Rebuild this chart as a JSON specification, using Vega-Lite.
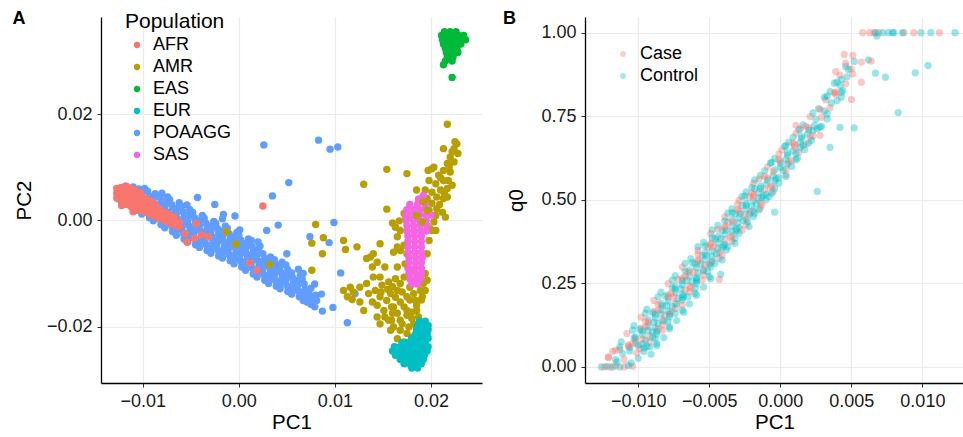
{
"$schema": "https://vega.github.io/schema/vega-lite/v6.json",
"padding": {"left": 12, "top": 10, "right": 0, "bottom": 0},
"config": {
 "font": "Liberation Sans",
 "view": {"stroke": null},
 "axis": {"labelFontSize": 18, "labelColor": "#1a1a1a", "titleFontSize": 20.5, "titleFontWeight": "normal", "titleColor": "#000", "domainColor": "#000", "domainWidth": 1.3, "tickColor": "#333", "tickSize": 4, "labelPadding": 5, "gridColor": "#ebebeb", "gridWidth": 1.2},
 "concat": {"spacing": 20}
},
"resolve": {"scale": {"color": "independent"}, "legend": {"color": "independent"}},
"datasets": {
"pop": [
{"x":-0.0125,"y":0.0040,"g":"POAAGG"},{"x":-0.0124,"y":0.0050,"g":"POAAGG"},{"x":-0.0123,"y":0.0061,"g":"POAAGG"},
{"x":-0.0118,"y":0.0034,"g":"POAAGG"},{"x":-0.0119,"y":0.0044,"g":"POAAGG"},{"x":-0.0117,"y":0.0054,"g":"POAAGG"},{"x":-0.0118,"y":0.0064,"g":"POAAGG"},
{"x":-0.0111,"y":0.0025,"g":"POAAGG"},{"x":-0.0112,"y":0.0035,"g":"POAAGG"},{"x":-0.0113,"y":0.0045,"g":"POAAGG"},{"x":-0.0112,"y":0.0055,"g":"POAAGG"},{"x":-0.0110,"y":0.0063,"g":"POAAGG"},
{"x":-0.0106,"y":0.0019,"g":"POAAGG"},{"x":-0.0107,"y":0.0030,"g":"POAAGG"},{"x":-0.0105,"y":0.0040,"g":"POAAGG"},{"x":-0.0106,"y":0.0050,"g":"POAAGG"},{"x":-0.0104,"y":0.0059,"g":"POAAGG"},
{"x":-0.0101,"y":0.0012,"g":"POAAGG"},{"x":-0.0100,"y":0.0023,"g":"POAAGG"},{"x":-0.0099,"y":0.0033,"g":"POAAGG"},{"x":-0.0100,"y":0.0043,"g":"POAAGG"},{"x":-0.0101,"y":0.0053,"g":"POAAGG"},{"x":-0.0098,"y":0.0060,"g":"POAAGG"},
{"x":-0.0093,"y":0.0005,"g":"POAAGG"},{"x":-0.0094,"y":0.0016,"g":"POAAGG"},{"x":-0.0095,"y":0.0026,"g":"POAAGG"},{"x":-0.0094,"y":0.0036,"g":"POAAGG"},{"x":-0.0093,"y":0.0046,"g":"POAAGG"},{"x":-0.0095,"y":0.0055,"g":"POAAGG"},
{"x":-0.0089,"y":-0.0001,"g":"POAAGG"},{"x":-0.0088,"y":0.0010,"g":"POAAGG"},{"x":-0.0087,"y":0.0020,"g":"POAAGG"},{"x":-0.0088,"y":0.0030,"g":"POAAGG"},{"x":-0.0089,"y":0.0040,"g":"POAAGG"},{"x":-0.0087,"y":0.0050,"g":"POAAGG"},
{"x":-0.0081,"y":-0.0008,"g":"POAAGG"},{"x":-0.0082,"y":0.0003,"g":"POAAGG"},{"x":-0.0083,"y":0.0013,"g":"POAAGG"},{"x":-0.0082,"y":0.0023,"g":"POAAGG"},{"x":-0.0081,"y":0.0033,"g":"POAAGG"},{"x":-0.0082,"y":0.0043,"g":"POAAGG"},{"x":-0.0080,"y":0.0051,"g":"POAAGG"},
{"x":-0.0077,"y":-0.0014,"g":"POAAGG"},{"x":-0.0076,"y":-0.0003,"g":"POAAGG"},{"x":-0.0075,"y":0.0007,"g":"POAAGG"},{"x":-0.0076,"y":0.0017,"g":"POAAGG"},{"x":-0.0077,"y":0.0027,"g":"POAAGG"},{"x":-0.0076,"y":0.0037,"g":"POAAGG"},{"x":-0.0074,"y":0.0044,"g":"POAAGG"},
{"x":-0.0069,"y":-0.0021,"g":"POAAGG"},{"x":-0.0070,"y":-0.0010,"g":"POAAGG"},{"x":-0.0071,"y":0.0000,"g":"POAAGG"},{"x":-0.0070,"y":0.0010,"g":"POAAGG"},{"x":-0.0069,"y":0.0020,"g":"POAAGG"},{"x":-0.0070,"y":0.0030,"g":"POAAGG"},{"x":-0.0072,"y":0.0039,"g":"POAAGG"},
{"x":-0.0065,"y":-0.0028,"g":"POAAGG"},{"x":-0.0064,"y":-0.0017,"g":"POAAGG"},{"x":-0.0063,"y":-0.0007,"g":"POAAGG"},{"x":-0.0064,"y":0.0003,"g":"POAAGG"},{"x":-0.0065,"y":0.0013,"g":"POAAGG"},{"x":-0.0064,"y":0.0023,"g":"POAAGG"},{"x":-0.0062,"y":0.0033,"g":"POAAGG"},
{"x":-0.0057,"y":-0.0035,"g":"POAAGG"},{"x":-0.0058,"y":-0.0024,"g":"POAAGG"},{"x":-0.0059,"y":-0.0014,"g":"POAAGG"},{"x":-0.0058,"y":-0.0004,"g":"POAAGG"},{"x":-0.0057,"y":0.0006,"g":"POAAGG"},{"x":-0.0058,"y":0.0016,"g":"POAAGG"},{"x":-0.0060,"y":0.0027,"g":"POAAGG"},
{"x":-0.0053,"y":-0.0041,"g":"POAAGG"},{"x":-0.0052,"y":-0.0030,"g":"POAAGG"},{"x":-0.0051,"y":-0.0020,"g":"POAAGG"},{"x":-0.0052,"y":-0.0010,"g":"POAAGG"},{"x":-0.0053,"y":0.0000,"g":"POAAGG"},{"x":-0.0052,"y":0.0010,"g":"POAAGG"},{"x":-0.0051,"y":0.0020,"g":"POAAGG"},{"x":-0.0054,"y":0.0029,"g":"POAAGG"},
{"x":-0.0045,"y":-0.0046,"g":"POAAGG"},{"x":-0.0046,"y":-0.0035,"g":"POAAGG"},{"x":-0.0047,"y":-0.0025,"g":"POAAGG"},{"x":-0.0046,"y":-0.0015,"g":"POAAGG"},{"x":-0.0045,"y":-0.0005,"g":"POAAGG"},{"x":-0.0046,"y":0.0005,"g":"POAAGG"},{"x":-0.0048,"y":0.0015,"g":"POAAGG"},
{"x":-0.0041,"y":-0.0051,"g":"POAAGG"},{"x":-0.0040,"y":-0.0040,"g":"POAAGG"},{"x":-0.0039,"y":-0.0030,"g":"POAAGG"},{"x":-0.0040,"y":-0.0020,"g":"POAAGG"},{"x":-0.0041,"y":-0.0010,"g":"POAAGG"},{"x":-0.0040,"y":0.0000,"g":"POAAGG"},{"x":-0.0038,"y":0.0009,"g":"POAAGG"},
{"x":-0.0033,"y":-0.0057,"g":"POAAGG"},{"x":-0.0034,"y":-0.0046,"g":"POAAGG"},{"x":-0.0035,"y":-0.0036,"g":"POAAGG"},{"x":-0.0034,"y":-0.0026,"g":"POAAGG"},{"x":-0.0033,"y":-0.0016,"g":"POAAGG"},{"x":-0.0034,"y":-0.0006,"g":"POAAGG"},{"x":-0.0036,"y":0.0004,"g":"POAAGG"},
{"x":-0.0029,"y":-0.0062,"g":"POAAGG"},{"x":-0.0028,"y":-0.0051,"g":"POAAGG"},{"x":-0.0027,"y":-0.0041,"g":"POAAGG"},{"x":-0.0028,"y":-0.0031,"g":"POAAGG"},{"x":-0.0029,"y":-0.0021,"g":"POAAGG"},{"x":-0.0028,"y":-0.0011,"g":"POAAGG"},{"x":-0.0026,"y":-0.0002,"g":"POAAGG"},
{"x":-0.0021,"y":-0.0067,"g":"POAAGG"},{"x":-0.0022,"y":-0.0056,"g":"POAAGG"},{"x":-0.0023,"y":-0.0046,"g":"POAAGG"},{"x":-0.0022,"y":-0.0036,"g":"POAAGG"},{"x":-0.0021,"y":-0.0026,"g":"POAAGG"},{"x":-0.0022,"y":-0.0016,"g":"POAAGG"},{"x":-0.0024,"y":-0.0006,"g":"POAAGG"},
{"x":-0.0017,"y":-0.0071,"g":"POAAGG"},{"x":-0.0016,"y":-0.0060,"g":"POAAGG"},{"x":-0.0015,"y":-0.0050,"g":"POAAGG"},{"x":-0.0016,"y":-0.0040,"g":"POAAGG"},{"x":-0.0017,"y":-0.0030,"g":"POAAGG"},{"x":-0.0016,"y":-0.0020,"g":"POAAGG"},{"x":-0.0014,"y":-0.0011,"g":"POAAGG"},
{"x":-0.0009,"y":-0.0076,"g":"POAAGG"},{"x":-0.0010,"y":-0.0065,"g":"POAAGG"},{"x":-0.0011,"y":-0.0055,"g":"POAAGG"},{"x":-0.0010,"y":-0.0045,"g":"POAAGG"},{"x":-0.0009,"y":-0.0035,"g":"POAAGG"},{"x":-0.0010,"y":-0.0025,"g":"POAAGG"},{"x":-0.0012,"y":-0.0015,"g":"POAAGG"},
{"x":-0.0005,"y":-0.0082,"g":"POAAGG"},{"x":-0.0004,"y":-0.0071,"g":"POAAGG"},{"x":-0.0003,"y":-0.0061,"g":"POAAGG"},{"x":-0.0004,"y":-0.0051,"g":"POAAGG"},{"x":-0.0005,"y":-0.0041,"g":"POAAGG"},{"x":-0.0004,"y":-0.0031,"g":"POAAGG"},{"x":-0.0002,"y":-0.0023,"g":"POAAGG"},
{"x":0.0003,"y":-0.0088,"g":"POAAGG"},{"x":0.0002,"y":-0.0077,"g":"POAAGG"},{"x":0.0001,"y":-0.0067,"g":"POAAGG"},{"x":0.0002,"y":-0.0057,"g":"POAAGG"},{"x":0.0003,"y":-0.0047,"g":"POAAGG"},{"x":0.0002,"y":-0.0037,"g":"POAAGG"},{"x":0.0000,"y":-0.0028,"g":"POAAGG"},
{"x":0.0007,"y":-0.0094,"g":"POAAGG"},{"x":0.0008,"y":-0.0083,"g":"POAAGG"},{"x":0.0009,"y":-0.0073,"g":"POAAGG"},{"x":0.0008,"y":-0.0063,"g":"POAAGG"},{"x":0.0007,"y":-0.0053,"g":"POAAGG"},{"x":0.0008,"y":-0.0043,"g":"POAAGG"},{"x":0.0010,"y":-0.0035,"g":"POAAGG"},
{"x":0.0015,"y":-0.0101,"g":"POAAGG"},{"x":0.0014,"y":-0.0090,"g":"POAAGG"},{"x":0.0013,"y":-0.0080,"g":"POAAGG"},{"x":0.0014,"y":-0.0070,"g":"POAAGG"},{"x":0.0015,"y":-0.0060,"g":"POAAGG"},{"x":0.0014,"y":-0.0050,"g":"POAAGG"},{"x":0.0012,"y":-0.0042,"g":"POAAGG"},
{"x":0.0019,"y":-0.0107,"g":"POAAGG"},{"x":0.0020,"y":-0.0096,"g":"POAAGG"},{"x":0.0021,"y":-0.0086,"g":"POAAGG"},{"x":0.0020,"y":-0.0076,"g":"POAAGG"},{"x":0.0019,"y":-0.0066,"g":"POAAGG"},{"x":0.0020,"y":-0.0056,"g":"POAAGG"},{"x":0.0022,"y":-0.0049,"g":"POAAGG"},
{"x":0.0027,"y":-0.0113,"g":"POAAGG"},{"x":0.0026,"y":-0.0102,"g":"POAAGG"},{"x":0.0025,"y":-0.0092,"g":"POAAGG"},{"x":0.0026,"y":-0.0082,"g":"POAAGG"},{"x":0.0027,"y":-0.0072,"g":"POAAGG"},{"x":0.0025,"y":-0.0063,"g":"POAAGG"},
{"x":0.0031,"y":-0.0119,"g":"POAAGG"},{"x":0.0032,"y":-0.0108,"g":"POAAGG"},{"x":0.0033,"y":-0.0098,"g":"POAAGG"},{"x":0.0032,"y":-0.0088,"g":"POAAGG"},{"x":0.0031,"y":-0.0078,"g":"POAAGG"},{"x":0.0033,"y":-0.0069,"g":"POAAGG"},
{"x":0.0039,"y":-0.0124,"g":"POAAGG"},{"x":0.0038,"y":-0.0113,"g":"POAAGG"},{"x":0.0037,"y":-0.0103,"g":"POAAGG"},{"x":0.0038,"y":-0.0093,"g":"POAAGG"},{"x":0.0039,"y":-0.0083,"g":"POAAGG"},{"x":0.0037,"y":-0.0074,"g":"POAAGG"},
{"x":0.0043,"y":-0.0129,"g":"POAAGG"},{"x":0.0044,"y":-0.0118,"g":"POAAGG"},{"x":0.0045,"y":-0.0108,"g":"POAAGG"},{"x":0.0044,"y":-0.0098,"g":"POAAGG"},{"x":0.0043,"y":-0.0088,"g":"POAAGG"},{"x":0.0045,"y":-0.0079,"g":"POAAGG"},
{"x":0.0051,"y":-0.0134,"g":"POAAGG"},{"x":0.0050,"y":-0.0123,"g":"POAAGG"},{"x":0.0049,"y":-0.0113,"g":"POAAGG"},{"x":0.0050,"y":-0.0103,"g":"POAAGG"},{"x":0.0051,"y":-0.0093,"g":"POAAGG"},{"x":0.0049,"y":-0.0084,"g":"POAAGG"},
{"x":0.0055,"y":-0.0139,"g":"POAAGG"},{"x":0.0056,"y":-0.0128,"g":"POAAGG"},{"x":0.0057,"y":-0.0118,"g":"POAAGG"},{"x":0.0056,"y":-0.0108,"g":"POAAGG"},{"x":0.0055,"y":-0.0099,"g":"POAAGG"},
{"x":0.0063,"y":-0.0144,"g":"POAAGG"},{"x":0.0062,"y":-0.0133,"g":"POAAGG"},{"x":0.0061,"y":-0.0123,"g":"POAAGG"},{"x":0.0062,"y":-0.0113,"g":"POAAGG"},{"x":0.0064,"y":-0.0104,"g":"POAAGG"},
{"x":0.0067,"y":-0.0151,"g":"POAAGG"},{"x":0.0068,"y":-0.0140,"g":"POAAGG"},{"x":0.0069,"y":-0.0130,"g":"POAAGG"},{"x":0.0068,"y":-0.0120,"g":"POAAGG"},{"x":0.0066,"y":-0.0111,"g":"POAAGG"},
{"x":0.0075,"y":-0.0158,"g":"POAAGG"},{"x":0.0074,"y":-0.0148,"g":"POAAGG"},{"x":0.0073,"y":-0.0138,"g":"POAAGG"},{"x":0.0075,"y":-0.0128,"g":"POAAGG"},
{"x":0.0079,"y":-0.0163,"g":"POAAGG"},{"x":0.0081,"y":-0.0151,"g":"POAAGG"},{"x":0.0080,"y":-0.0141,"g":"POAAGG"},
{"x":0.0026,"y":0.0142,"g":"POAAGG"},{"x":0.0083,"y":0.0151,"g":"POAAGG"},{"x":0.0095,"y":0.0134,"g":"POAAGG"},{"x":0.0103,"y":0.0138,"g":"POAAGG"},{"x":0.0052,"y":0.0071,"g":"POAAGG"},{"x":0.0035,"y":0.0046,"g":"POAAGG"},{"x":-0.0043,"y":0.0043,"g":"POAAGG"},{"x":-0.0025,"y":0.0030,"g":"POAAGG"},{"x":-0.0004,"y":0.0008,"g":"POAAGG"},{"x":0.0099,"y":-0.0004,"g":"POAAGG"},{"x":0.0029,"y":-0.0019,"g":"POAAGG"},{"x":0.0074,"y":-0.0031,"g":"POAAGG"},{"x":0.0094,"y":-0.0042,"g":"POAAGG"},{"x":0.0050,"y":-0.0063,"g":"POAAGG"},{"x":0.0106,"y":-0.0099,"g":"POAAGG"},{"x":0.0086,"y":-0.0139,"g":"POAAGG"},{"x":0.0087,"y":-0.0171,"g":"POAAGG"},{"x":0.0098,"y":-0.0164,"g":"POAAGG"},{"x":0.0113,"y":-0.0193,"g":"POAAGG"},{"x":-0.0017,"y":0.0003,"g":"POAAGG"},{"x":0.0001,"y":-0.0018,"g":"POAAGG"},{"x":0.0013,"y":-0.0038,"g":"POAAGG"},{"x":0.0067,"y":-0.0100,"g":"POAAGG"},{"x":0.0079,"y":-0.0120,"g":"POAAGG"},{"x":0.0074,"y":-0.0144,"g":"POAAGG"},{"x":0.0071,"y":-0.0154,"g":"POAAGG"},{"x":0.0121,"y":-0.0138,"g":"POAAGG"},{"x":0.0062,"y":-0.0092,"g":"POAAGG"},{"x":-0.0016,"y":0.0011,"g":"POAAGG"},{"x":0.0041,"y":-0.0009,"g":"POAAGG"},{"x":0.0020,"y":-0.0041,"g":"POAAGG"},
{"x":0.0217,"y":0.0181,"g":"AMR"},{"x":0.0225,"y":0.0148,"g":"AMR"},{"x":0.0227,"y":0.0144,"g":"AMR"},{"x":0.0224,"y":0.0135,"g":"AMR"},{"x":0.0213,"y":0.0135,"g":"AMR"},{"x":0.0228,"y":0.0126,"g":"AMR"},{"x":0.0220,"y":0.0119,"g":"AMR"},{"x":0.0224,"y":0.0110,"g":"AMR"},{"x":0.0217,"y":0.0107,"g":"AMR"},{"x":0.0203,"y":0.0100,"g":"AMR"},{"x":0.0213,"y":0.0094,"g":"AMR"},{"x":0.0220,"y":0.0091,"g":"AMR"},{"x":0.0208,"y":0.0085,"g":"AMR"},{"x":0.0201,"y":0.0097,"g":"AMR"},{"x":0.0197,"y":0.0094,"g":"AMR"},{"x":0.0198,"y":0.0075,"g":"AMR"},{"x":0.0205,"y":0.0069,"g":"AMR"},{"x":0.0213,"y":0.0075,"g":"AMR"},{"x":0.0218,"y":0.0075,"g":"AMR"},{"x":0.0217,"y":0.0060,"g":"AMR"},{"x":0.0210,"y":0.0057,"g":"AMR"},{"x":0.0217,"y":0.0044,"g":"AMR"},{"x":0.0213,"y":0.0041,"g":"AMR"},{"x":0.0206,"y":0.0044,"g":"AMR"},{"x":0.0201,"y":0.0053,"g":"AMR"},{"x":0.0194,"y":0.0057,"g":"AMR"},{"x":0.0185,"y":0.0057,"g":"AMR"},{"x":0.0196,"y":0.0041,"g":"AMR"},{"x":0.0201,"y":0.0032,"g":"AMR"},{"x":0.0206,"y":0.0022,"g":"AMR"},{"x":0.0215,"y":0.0006,"g":"AMR"},{"x":0.0205,"y":0.0009,"g":"AMR"},{"x":0.0198,"y":0.0019,"g":"AMR"},{"x":0.0203,"y":-0.0003,"g":"AMR"},{"x":0.0205,"y":-0.0019,"g":"AMR"},{"x":0.0199,"y":-0.0016,"g":"AMR"},{"x":0.0222,"y":0.0129,"g":"AMR"},{"x":0.0219,"y":0.0101,"g":"AMR"},{"x":0.0210,"y":0.0080,"g":"AMR"},{"x":0.0222,"y":0.0066,"g":"AMR"},{"x":0.0214,"y":0.0050,"g":"AMR"},{"x":0.0209,"y":0.0030,"g":"AMR"},{"x":0.0212,"y":0.0015,"g":"AMR"},
{"x":0.0175,"y":0.0088,"g":"AMR"},{"x":0.0154,"y":0.0096,"g":"AMR"},{"x":0.0130,"y":0.0068,"g":"AMR"},{"x":0.0154,"y":0.0021,"g":"AMR"},{"x":0.0160,"y":-0.0005,"g":"AMR"},{"x":0.0167,"y":-0.0001,"g":"AMR"},{"x":0.0174,"y":0.0005,"g":"AMR"},{"x":0.0080,"y":-0.0008,"g":"AMR"},{"x":0.0076,"y":-0.0043,"g":"AMR"},{"x":0.0088,"y":-0.0033,"g":"AMR"},{"x":0.0087,"y":-0.0063,"g":"AMR"},{"x":0.0109,"y":-0.0038,"g":"AMR"},{"x":0.0111,"y":-0.0055,"g":"AMR"},{"x":0.0123,"y":-0.0050,"g":"AMR"},{"x":0.0147,"y":-0.0044,"g":"AMR"},{"x":0.0076,"y":-0.0094,"g":"AMR"},{"x":-0.0013,"y":-0.0021,"g":"AMR"},{"x":-0.0003,"y":-0.0045,"g":"AMR"},{"x":0.0032,"y":-0.0083,"g":"AMR"},
{"x":0.0109,"y":-0.0132,"g":"AMR"},{"x":0.0116,"y":-0.0126,"g":"AMR"},{"x":0.0118,"y":-0.0149,"g":"AMR"},{"x":0.0126,"y":-0.0126,"g":"AMR"},{"x":0.0133,"y":-0.0119,"g":"AMR"},{"x":0.0135,"y":-0.0138,"g":"AMR"},{"x":0.0142,"y":-0.0132,"g":"AMR"},{"x":0.0147,"y":-0.0144,"g":"AMR"},{"x":0.0149,"y":-0.0122,"g":"AMR"},{"x":0.0156,"y":-0.0116,"g":"AMR"},{"x":0.0163,"y":-0.0110,"g":"AMR"},{"x":0.0168,"y":-0.0119,"g":"AMR"},{"x":0.0165,"y":-0.0132,"g":"AMR"},{"x":0.0158,"y":-0.0138,"g":"AMR"},{"x":0.0154,"y":-0.0151,"g":"AMR"},{"x":0.0144,"y":-0.0160,"g":"AMR"},{"x":0.0139,"y":-0.0154,"g":"AMR"},{"x":0.0151,"y":-0.0170,"g":"AMR"},{"x":0.0159,"y":-0.0163,"g":"AMR"},{"x":0.0168,"y":-0.0154,"g":"AMR"},{"x":0.0175,"y":-0.0144,"g":"AMR"},{"x":0.0182,"y":-0.0138,"g":"AMR"},{"x":0.0189,"y":-0.0132,"g":"AMR"},{"x":0.0178,"y":-0.0126,"g":"AMR"},{"x":0.0172,"y":-0.0107,"g":"AMR"},{"x":0.0165,"y":-0.0088,"g":"AMR"},{"x":0.0152,"y":-0.0088,"g":"AMR"},{"x":0.0147,"y":-0.0107,"g":"AMR"},{"x":0.0140,"y":-0.0107,"g":"AMR"},{"x":0.0139,"y":-0.0088,"g":"AMR"},{"x":0.0144,"y":-0.0079,"g":"AMR"},{"x":0.0137,"y":-0.0069,"g":"AMR"},{"x":0.0140,"y":-0.0063,"g":"AMR"},{"x":0.0133,"y":-0.0072,"g":"AMR"},{"x":0.0168,"y":-0.0057,"g":"AMR"},{"x":0.0165,"y":-0.0050,"g":"AMR"},{"x":0.0172,"y":-0.0047,"g":"AMR"},{"x":0.0175,"y":-0.0063,"g":"AMR"},{"x":0.0173,"y":-0.0082,"g":"AMR"},{"x":0.0182,"y":-0.0094,"g":"AMR"},{"x":0.0177,"y":-0.0107,"g":"AMR"},{"x":0.0144,"y":-0.0182,"g":"AMR"},{"x":0.0156,"y":-0.0188,"g":"AMR"},{"x":0.0161,"y":-0.0201,"g":"AMR"},{"x":0.0168,"y":-0.0207,"g":"AMR"},{"x":0.0165,"y":-0.0223,"g":"AMR"},{"x":0.0172,"y":-0.0229,"g":"AMR"},{"x":0.0175,"y":-0.0213,"g":"AMR"},{"x":0.0182,"y":-0.0195,"g":"AMR"},{"x":0.0187,"y":-0.0182,"g":"AMR"},{"x":0.0185,"y":-0.0170,"g":"AMR"},{"x":0.0180,"y":-0.0173,"g":"AMR"},{"x":0.0175,"y":-0.0179,"g":"AMR"},{"x":0.0168,"y":-0.0188,"g":"AMR"},{"x":0.0172,"y":-0.0163,"g":"AMR"},{"x":0.0184,"y":-0.0151,"g":"AMR"},{"x":0.0191,"y":-0.0144,"g":"AMR"},{"x":0.0194,"y":-0.0132,"g":"AMR"},{"x":0.0192,"y":-0.0119,"g":"AMR"},{"x":0.0187,"y":-0.0113,"g":"AMR"},{"x":0.0161,"y":-0.0163,"g":"AMR"},{"x":0.0152,"y":-0.0182,"g":"AMR"},{"x":0.0147,"y":-0.0195,"g":"AMR"},{"x":0.0158,"y":-0.0207,"g":"AMR"},{"x":0.0159,"y":-0.0188,"g":"AMR"},{"x":0.0177,"y":-0.0201,"g":"AMR"},{"x":0.0180,"y":-0.0220,"g":"AMR"},{"x":0.0126,"y":-0.0154,"g":"AMR"},{"x":0.0130,"y":-0.0170,"g":"AMR"},{"x":0.0119,"y":-0.0135,"g":"AMR"},{"x":0.0113,"y":-0.0144,"g":"AMR"},
{"x":0.0160,"y":-0.0125,"g":"AMR"},{"x":0.0170,"y":-0.0135,"g":"AMR"},{"x":0.0178,"y":-0.0150,"g":"AMR"},{"x":0.0163,"y":-0.0145,"g":"AMR"},{"x":0.0155,"y":-0.0130,"g":"AMR"},{"x":0.0148,"y":-0.0135,"g":"AMR"},{"x":0.0175,"y":-0.0170,"g":"AMR"},{"x":0.0165,"y":-0.0175,"g":"AMR"},{"x":0.0170,"y":-0.0195,"g":"AMR"},{"x":0.0160,"y":-0.0175,"g":"AMR"},{"x":0.0185,"y":-0.0160,"g":"AMR"},{"x":0.0190,"y":-0.0150,"g":"AMR"},{"x":0.0180,"y":-0.0185,"g":"AMR"},{"x":0.0185,"y":-0.0205,"g":"AMR"},{"x":0.0178,"y":-0.0230,"g":"AMR"},{"x":0.0185,"y":-0.0225,"g":"AMR"},
{"x":0.0163,"y":-0.0013,"g":"AMR"},{"x":0.0168,"y":-0.0019,"g":"AMR"},{"x":0.0165,"y":-0.0031,"g":"AMR"},{"x":0.0161,"y":-0.0060,"g":"AMR"},{"x":0.0172,"y":0.0013,"g":"AMR"},{"x":0.0178,"y":0.0009,"g":"AMR"},{"x":0.0201,"y":-0.0019,"g":"AMR"},{"x":0.0198,"y":-0.0038,"g":"AMR"},{"x":0.0196,"y":-0.0063,"g":"AMR"},{"x":0.0194,"y":-0.0100,"g":"AMR"},{"x":0.0196,"y":-0.0113,"g":"AMR"},
{"x":-0.0127,"y":0.0042,"g":"AFR"},{"x":-0.0127,"y":0.0051,"g":"AFR"},{"x":-0.0127,"y":0.0060,"g":"AFR"},
{"x":-0.0122,"y":0.0036,"g":"AFR"},{"x":-0.0122,"y":0.0045,"g":"AFR"},{"x":-0.0122,"y":0.0054,"g":"AFR"},{"x":-0.0122,"y":0.0062,"g":"AFR"},
{"x":-0.0117,"y":0.0030,"g":"AFR"},{"x":-0.0117,"y":0.0039,"g":"AFR"},{"x":-0.0117,"y":0.0048,"g":"AFR"},{"x":-0.0117,"y":0.0057,"g":"AFR"},{"x":-0.0117,"y":0.0064,"g":"AFR"},
{"x":-0.0112,"y":0.0026,"g":"AFR"},{"x":-0.0112,"y":0.0035,"g":"AFR"},{"x":-0.0112,"y":0.0044,"g":"AFR"},{"x":-0.0112,"y":0.0053,"g":"AFR"},{"x":-0.0112,"y":0.0060,"g":"AFR"},
{"x":-0.0107,"y":0.0022,"g":"AFR"},{"x":-0.0107,"y":0.0031,"g":"AFR"},{"x":-0.0107,"y":0.0040,"g":"AFR"},{"x":-0.0107,"y":0.0049,"g":"AFR"},{"x":-0.0107,"y":0.0056,"g":"AFR"},
{"x":-0.0102,"y":0.0018,"g":"AFR"},{"x":-0.0102,"y":0.0027,"g":"AFR"},{"x":-0.0102,"y":0.0036,"g":"AFR"},{"x":-0.0102,"y":0.0045,"g":"AFR"},{"x":-0.0102,"y":0.0051,"g":"AFR"},
{"x":-0.0097,"y":0.0015,"g":"AFR"},{"x":-0.0097,"y":0.0024,"g":"AFR"},{"x":-0.0097,"y":0.0033,"g":"AFR"},{"x":-0.0097,"y":0.0041,"g":"AFR"},
{"x":-0.0092,"y":0.0011,"g":"AFR"},{"x":-0.0092,"y":0.0020,"g":"AFR"},{"x":-0.0092,"y":0.0029,"g":"AFR"},{"x":-0.0092,"y":0.0036,"g":"AFR"},
{"x":-0.0087,"y":0.0007,"g":"AFR"},{"x":-0.0087,"y":0.0016,"g":"AFR"},{"x":-0.0087,"y":0.0025,"g":"AFR"},{"x":-0.0087,"y":0.0031,"g":"AFR"},
{"x":-0.0082,"y":0.0003,"g":"AFR"},{"x":-0.0082,"y":0.0012,"g":"AFR"},{"x":-0.0082,"y":0.0020,"g":"AFR"},
{"x":-0.0077,"y":-0.0001,"g":"AFR"},{"x":-0.0077,"y":0.0008,"g":"AFR"},{"x":-0.0077,"y":0.0015,"g":"AFR"},
{"x":-0.0072,"y":-0.0005,"g":"AFR"},{"x":-0.0072,"y":0.0004,"g":"AFR"},{"x":-0.0072,"y":0.0011,"g":"AFR"},
{"x":-0.0067,"y":-0.0009,"g":"AFR"},{"x":-0.0067,"y":0.0000,"g":"AFR"},{"x":-0.0067,"y":0.0006,"g":"AFR"},
{"x":-0.0062,"y":-0.0012,"g":"AFR"},{"x":-0.0062,"y":-0.0004,"g":"AFR"},
{"x":-0.0122,"y":0.0028,"g":"AFR"},{"x":-0.0110,"y":0.0016,"g":"AFR"},{"x":-0.0044,"y":-0.0006,"g":"AFR"},{"x":-0.0056,"y":-0.0025,"g":"AFR"},{"x":-0.0054,"y":-0.0041,"g":"AFR"},{"x":-0.0046,"y":-0.0034,"g":"AFR"},{"x":-0.0039,"y":-0.0027,"g":"AFR"},{"x":-0.0032,"y":-0.0031,"g":"AFR"},{"x":0.0011,"y":-0.0080,"g":"AFR"},{"x":0.0019,"y":-0.0094,"g":"AFR"},{"x":0.0025,"y":0.0027,"g":"AFR"},
{"x":0.0178,"y":0.0030,"g":"SAS"},{"x":0.0186,"y":0.0030,"g":"SAS"},{"x":0.0194,"y":0.0030,"g":"SAS"},
{"x":0.0175,"y":0.0020,"g":"SAS"},{"x":0.0182,"y":0.0020,"g":"SAS"},{"x":0.0189,"y":0.0020,"g":"SAS"},{"x":0.0196,"y":0.0020,"g":"SAS"},
{"x":0.0174,"y":0.0010,"g":"SAS"},{"x":0.0181,"y":0.0010,"g":"SAS"},{"x":0.0188,"y":0.0010,"g":"SAS"},{"x":0.0195,"y":0.0010,"g":"SAS"},{"x":0.0200,"y":0.0010,"g":"SAS"},
{"x":0.0174,"y":0.0000,"g":"SAS"},{"x":0.0181,"y":0.0000,"g":"SAS"},{"x":0.0188,"y":0.0000,"g":"SAS"},{"x":0.0195,"y":0.0000,"g":"SAS"},
{"x":0.0175,"y":-0.0010,"g":"SAS"},{"x":0.0182,"y":-0.0010,"g":"SAS"},{"x":0.0189,"y":-0.0010,"g":"SAS"},{"x":0.0196,"y":-0.0010,"g":"SAS"},
{"x":0.0175,"y":-0.0020,"g":"SAS"},{"x":0.0182,"y":-0.0020,"g":"SAS"},{"x":0.0189,"y":-0.0020,"g":"SAS"},{"x":0.0195,"y":-0.0020,"g":"SAS"},
{"x":0.0176,"y":-0.0030,"g":"SAS"},{"x":0.0183,"y":-0.0030,"g":"SAS"},{"x":0.0190,"y":-0.0030,"g":"SAS"},
{"x":0.0176,"y":-0.0040,"g":"SAS"},{"x":0.0183,"y":-0.0040,"g":"SAS"},{"x":0.0190,"y":-0.0040,"g":"SAS"},
{"x":0.0176,"y":-0.0050,"g":"SAS"},{"x":0.0183,"y":-0.0050,"g":"SAS"},{"x":0.0190,"y":-0.0050,"g":"SAS"},
{"x":0.0176,"y":-0.0060,"g":"SAS"},{"x":0.0183,"y":-0.0060,"g":"SAS"},{"x":0.0190,"y":-0.0060,"g":"SAS"},
{"x":0.0177,"y":-0.0070,"g":"SAS"},{"x":0.0184,"y":-0.0070,"g":"SAS"},{"x":0.0191,"y":-0.0070,"g":"SAS"},
{"x":0.0177,"y":-0.0080,"g":"SAS"},{"x":0.0184,"y":-0.0080,"g":"SAS"},{"x":0.0190,"y":-0.0080,"g":"SAS"},
{"x":0.0176,"y":-0.0090,"g":"SAS"},{"x":0.0183,"y":-0.0090,"g":"SAS"},{"x":0.0190,"y":-0.0090,"g":"SAS"},
{"x":0.0177,"y":-0.0100,"g":"SAS"},{"x":0.0184,"y":-0.0100,"g":"SAS"},{"x":0.0190,"y":-0.0100,"g":"SAS"},
{"x":0.0178,"y":-0.0110,"g":"SAS"},{"x":0.0185,"y":-0.0110,"g":"SAS"},{"x":0.0189,"y":-0.0110,"g":"SAS"},
{"x":0.0180,"y":-0.0120,"g":"SAS"},{"x":0.0186,"y":-0.0120,"g":"SAS"},
{"x":0.0192,"y":0.0047,"g":"SAS"},{"x":0.0187,"y":0.0040,"g":"SAS"},
{"x":0.0185,"y":0.0009,"g":"AMR"},{"x":0.0191,"y":-0.0003,"g":"AMR"},{"x":0.0196,"y":0.0019,"g":"AMR"},{"x":0.0192,"y":0.0035,"g":"AMR"},
{"x":0.0188,"y":-0.0190,"g":"EUR"},{"x":0.0194,"y":-0.0190,"g":"EUR"},
{"x":0.0186,"y":-0.0198,"g":"EUR"},{"x":0.0192,"y":-0.0198,"g":"EUR"},{"x":0.0197,"y":-0.0198,"g":"EUR"},
{"x":0.0185,"y":-0.0206,"g":"EUR"},{"x":0.0191,"y":-0.0206,"g":"EUR"},{"x":0.0197,"y":-0.0206,"g":"EUR"},
{"x":0.0184,"y":-0.0214,"g":"EUR"},{"x":0.0190,"y":-0.0214,"g":"EUR"},{"x":0.0196,"y":-0.0214,"g":"EUR"},
{"x":0.0180,"y":-0.0222,"g":"EUR"},{"x":0.0186,"y":-0.0222,"g":"EUR"},{"x":0.0192,"y":-0.0222,"g":"EUR"},{"x":0.0197,"y":-0.0222,"g":"EUR"},
{"x":0.0170,"y":-0.0230,"g":"EUR"},{"x":0.0176,"y":-0.0230,"g":"EUR"},{"x":0.0182,"y":-0.0230,"g":"EUR"},{"x":0.0188,"y":-0.0230,"g":"EUR"},{"x":0.0194,"y":-0.0230,"g":"EUR"},
{"x":0.0162,"y":-0.0238,"g":"EUR"},{"x":0.0168,"y":-0.0238,"g":"EUR"},{"x":0.0174,"y":-0.0238,"g":"EUR"},{"x":0.0180,"y":-0.0238,"g":"EUR"},{"x":0.0186,"y":-0.0238,"g":"EUR"},{"x":0.0192,"y":-0.0238,"g":"EUR"},{"x":0.0197,"y":-0.0238,"g":"EUR"},
{"x":0.0160,"y":-0.0246,"g":"EUR"},{"x":0.0166,"y":-0.0246,"g":"EUR"},{"x":0.0172,"y":-0.0246,"g":"EUR"},{"x":0.0178,"y":-0.0246,"g":"EUR"},{"x":0.0184,"y":-0.0246,"g":"EUR"},{"x":0.0190,"y":-0.0246,"g":"EUR"},{"x":0.0196,"y":-0.0246,"g":"EUR"},
{"x":0.0163,"y":-0.0254,"g":"EUR"},{"x":0.0169,"y":-0.0254,"g":"EUR"},{"x":0.0175,"y":-0.0254,"g":"EUR"},{"x":0.0181,"y":-0.0254,"g":"EUR"},{"x":0.0187,"y":-0.0254,"g":"EUR"},{"x":0.0193,"y":-0.0254,"g":"EUR"},
{"x":0.0168,"y":-0.0262,"g":"EUR"},{"x":0.0174,"y":-0.0262,"g":"EUR"},{"x":0.0180,"y":-0.0262,"g":"EUR"},{"x":0.0186,"y":-0.0262,"g":"EUR"},{"x":0.0192,"y":-0.0262,"g":"EUR"},
{"x":0.0172,"y":-0.0270,"g":"EUR"},{"x":0.0178,"y":-0.0270,"g":"EUR"},{"x":0.0184,"y":-0.0270,"g":"EUR"},{"x":0.0190,"y":-0.0270,"g":"EUR"},
{"x":0.0180,"y":-0.0278,"g":"EUR"},{"x":0.0186,"y":-0.0278,"g":"EUR"},
{"x":0.0214,"y":0.0355,"g":"EAS"},{"x":0.0220,"y":0.0355,"g":"EAS"},{"x":0.0226,"y":0.0355,"g":"EAS"},
{"x":0.0211,"y":0.0348,"g":"EAS"},{"x":0.0217,"y":0.0348,"g":"EAS"},{"x":0.0223,"y":0.0348,"g":"EAS"},{"x":0.0229,"y":0.0348,"g":"EAS"},{"x":0.0234,"y":0.0348,"g":"EAS"},
{"x":0.0212,"y":0.0340,"g":"EAS"},{"x":0.0218,"y":0.0340,"g":"EAS"},{"x":0.0224,"y":0.0340,"g":"EAS"},{"x":0.0230,"y":0.0340,"g":"EAS"},{"x":0.0236,"y":0.0340,"g":"EAS"},
{"x":0.0213,"y":0.0332,"g":"EAS"},{"x":0.0219,"y":0.0332,"g":"EAS"},{"x":0.0225,"y":0.0332,"g":"EAS"},{"x":0.0231,"y":0.0332,"g":"EAS"},
{"x":0.0215,"y":0.0324,"g":"EAS"},{"x":0.0221,"y":0.0324,"g":"EAS"},{"x":0.0227,"y":0.0324,"g":"EAS"},
{"x":0.0216,"y":0.0316,"g":"EAS"},{"x":0.0222,"y":0.0316,"g":"EAS"},{"x":0.0228,"y":0.0316,"g":"EAS"},
{"x":0.0217,"y":0.0308,"g":"EAS"},{"x":0.0223,"y":0.0308,"g":"EAS"},
{"x":0.0215,"y":0.0300,"g":"EAS"},{"x":0.0222,"y":0.0300,"g":"EAS"},
{"x":0.0213,"y":0.0293,"g":"EAS"},{"x":0.0222,"y":0.0269,"g":"EAS"}
],
"qz": [
{"x":-0.0126,"y":0,"g":"Control"},{"x":-0.0124,"y":0,"g":"Case"},{"x":-0.0122,"y":0.002,"g":"Control"},{"x":-0.0120,"y":0,"g":"Case"},{"x":-0.0118,"y":0,"g":"Control"},{"x":-0.0116,"y":0.003,"g":"Case"},{"x":-0.0113,"y":0,"g":"Control"},{"x":-0.0110,"y":0,"g":"Case"},{"x":-0.0107,"y":0.004,"g":"Control"},{"x":-0.0104,"y":0.002,"g":"Case"},
{"x":-0.0118,"y":0.047,"g":"Case"},{"x":-0.0113,"y":0.052,"g":"Case"},{"x":-0.0121,"y":0.03,"g":"Case"},{"x":-0.0116,"y":0.022,"g":"Control"},
{"x":-0.0121,"y":0.028,"g":"Case"},{"x":-0.0115,"y":0.015,"g":"Control"},{"x":-0.0110,"y":0.022,"g":"Case"},{"x":-0.0105,"y":0.012,"g":"Control"},{"x":-0.0100,"y":0.026,"g":"Control"},
{"x":-0.0116,"y":0.05,"g":"Case"},{"x":-0.0111,"y":0.04,"g":"Control"},{"x":-0.0106,"y":0.048,"g":"Control"},{"x":-0.0101,"y":0.042,"g":"Case"},{"x":-0.0096,"y":0.046,"g":"Control"},{"x":-0.0091,"y":0.038,"g":"Control"},
{"x":-0.0112,"y":0.075,"g":"Control"},{"x":-0.0107,"y":0.066,"g":"Case"},{"x":-0.0102,"y":0.072,"g":"Control"},{"x":-0.0097,"y":0.068,"g":"Control"},{"x":-0.0092,"y":0.074,"g":"Case"},{"x":-0.0087,"y":0.064,"g":"Control"},
{"x":-0.0108,"y":0.1,"g":"Case"},{"x":-0.0102,"y":0.09,"g":"Control"},{"x":-0.0097,"y":0.097,"g":"Control"},{"x":-0.0092,"y":0.092,"g":"Case"},{"x":-0.0087,"y":0.099,"g":"Control"},{"x":-0.0082,"y":0.088,"g":"Control"},
{"x":-0.0103,"y":0.124,"g":"Control"},{"x":-0.0098,"y":0.116,"g":"Case"},{"x":-0.0093,"y":0.122,"g":"Control"},{"x":-0.0088,"y":0.117,"g":"Control"},{"x":-0.0083,"y":0.125,"g":"Case"},{"x":-0.0078,"y":0.114,"g":"Control"},
{"x":-0.0098,"y":0.149,"g":"Case"},{"x":-0.0093,"y":0.141,"g":"Control"},{"x":-0.0088,"y":0.147,"g":"Control"},{"x":-0.0083,"y":0.142,"g":"Case"},{"x":-0.0078,"y":0.15,"g":"Control"},{"x":-0.0073,"y":0.139,"g":"Control"},
{"x":-0.0094,"y":0.173,"g":"Control"},{"x":-0.0089,"y":0.166,"g":"Case"},{"x":-0.0084,"y":0.172,"g":"Control"},{"x":-0.0079,"y":0.167,"g":"Control"},{"x":-0.0074,"y":0.175,"g":"Case"},{"x":-0.0068,"y":0.164,"g":"Control"},
{"x":-0.0089,"y":0.199,"g":"Case"},{"x":-0.0084,"y":0.19,"g":"Control"},{"x":-0.0079,"y":0.197,"g":"Control"},{"x":-0.0074,"y":0.192,"g":"Case"},{"x":-0.0069,"y":0.2,"g":"Control"},{"x":-0.0064,"y":0.189,"g":"Control"},
{"x":-0.0084,"y":0.224,"g":"Control"},{"x":-0.0079,"y":0.216,"g":"Case"},{"x":-0.0074,"y":0.222,"g":"Control"},{"x":-0.0069,"y":0.217,"g":"Control"},{"x":-0.0064,"y":0.225,"g":"Case"},{"x":-0.0059,"y":0.214,"g":"Control"},
{"x":-0.0079,"y":0.249,"g":"Case"},{"x":-0.0074,"y":0.241,"g":"Control"},{"x":-0.0069,"y":0.247,"g":"Control"},{"x":-0.0064,"y":0.242,"g":"Case"},{"x":-0.0059,"y":0.25,"g":"Control"},{"x":-0.0054,"y":0.239,"g":"Control"},
{"x":-0.0074,"y":0.273,"g":"Control"},{"x":-0.0069,"y":0.266,"g":"Case"},{"x":-0.0064,"y":0.272,"g":"Control"},{"x":-0.0059,"y":0.267,"g":"Control"},{"x":-0.0054,"y":0.275,"g":"Case"},{"x":-0.0049,"y":0.264,"g":"Control"},
{"x":-0.0069,"y":0.299,"g":"Case"},{"x":-0.0064,"y":0.29,"g":"Control"},{"x":-0.0059,"y":0.297,"g":"Control"},{"x":-0.0054,"y":0.292,"g":"Case"},{"x":-0.0049,"y":0.3,"g":"Control"},
{"x":-0.0063,"y":0.324,"g":"Control"},{"x":-0.0058,"y":0.316,"g":"Case"},{"x":-0.0053,"y":0.322,"g":"Control"},{"x":-0.0048,"y":0.317,"g":"Control"},{"x":-0.0043,"y":0.325,"g":"Case"},
{"x":-0.0058,"y":0.349,"g":"Case"},{"x":-0.0053,"y":0.341,"g":"Control"},{"x":-0.0048,"y":0.347,"g":"Control"},{"x":-0.0043,"y":0.342,"g":"Case"},{"x":-0.0038,"y":0.35,"g":"Control"},
{"x":-0.0054,"y":0.373,"g":"Control"},{"x":-0.0049,"y":0.366,"g":"Case"},{"x":-0.0044,"y":0.372,"g":"Control"},{"x":-0.0039,"y":0.367,"g":"Control"},{"x":-0.0034,"y":0.375,"g":"Case"},
{"x":-0.0049,"y":0.399,"g":"Case"},{"x":-0.0044,"y":0.39,"g":"Control"},{"x":-0.0039,"y":0.397,"g":"Control"},{"x":-0.0034,"y":0.392,"g":"Case"},{"x":-0.0029,"y":0.4,"g":"Control"},
{"x":-0.0044,"y":0.424,"g":"Control"},{"x":-0.0039,"y":0.416,"g":"Case"},{"x":-0.0034,"y":0.422,"g":"Control"},{"x":-0.0029,"y":0.417,"g":"Control"},{"x":-0.0024,"y":0.425,"g":"Case"},
{"x":-0.0039,"y":0.449,"g":"Case"},{"x":-0.0034,"y":0.441,"g":"Control"},{"x":-0.0029,"y":0.447,"g":"Control"},{"x":-0.0024,"y":0.442,"g":"Case"},{"x":-0.0019,"y":0.45,"g":"Control"},
{"x":-0.0034,"y":0.473,"g":"Control"},{"x":-0.0029,"y":0.466,"g":"Case"},{"x":-0.0024,"y":0.472,"g":"Control"},{"x":-0.0019,"y":0.467,"g":"Control"},{"x":-0.0014,"y":0.475,"g":"Case"},
{"x":-0.0029,"y":0.499,"g":"Case"},{"x":-0.0024,"y":0.49,"g":"Control"},{"x":-0.0019,"y":0.497,"g":"Control"},{"x":-0.0014,"y":0.492,"g":"Case"},{"x":-0.0010,"y":0.5,"g":"Control"},
{"x":-0.0024,"y":0.524,"g":"Control"},{"x":-0.0019,"y":0.516,"g":"Case"},{"x":-0.0015,"y":0.522,"g":"Control"},{"x":-0.0010,"y":0.517,"g":"Control"},{"x":-0.0005,"y":0.525,"g":"Case"},
{"x":-0.0019,"y":0.549,"g":"Case"},{"x":-0.0014,"y":0.541,"g":"Control"},{"x":-0.0010,"y":0.547,"g":"Control"},{"x":-0.0006,"y":0.542,"g":"Case"},{"x":-0.0001,"y":0.55,"g":"Control"},
{"x":-0.0014,"y":0.573,"g":"Control"},{"x":-0.0009,"y":0.566,"g":"Case"},{"x":-0.0005,"y":0.572,"g":"Control"},{"x":-0.0001,"y":0.567,"g":"Control"},{"x":0.0004,"y":0.575,"g":"Case"},
{"x":-0.0009,"y":0.599,"g":"Case"},{"x":-0.0004,"y":0.59,"g":"Control"},{"x":0.0000,"y":0.597,"g":"Control"},{"x":0.0004,"y":0.592,"g":"Case"},{"x":0.0008,"y":0.6,"g":"Control"},
{"x":-0.0004,"y":0.624,"g":"Control"},{"x":0.0000,"y":0.616,"g":"Case"},{"x":0.0004,"y":0.622,"g":"Control"},{"x":0.0008,"y":0.617,"g":"Case"},{"x":0.0012,"y":0.625,"g":"Control"},
{"x":0.0001,"y":0.649,"g":"Case"},{"x":0.0005,"y":0.641,"g":"Control"},{"x":0.0009,"y":0.647,"g":"Control"},{"x":0.0013,"y":0.642,"g":"Case"},{"x":0.0017,"y":0.65,"g":"Control"},
{"x":0.0006,"y":0.673,"g":"Control"},{"x":0.0010,"y":0.666,"g":"Case"},{"x":0.0014,"y":0.672,"g":"Control"},{"x":0.0018,"y":0.667,"g":"Case"},
{"x":0.0011,"y":0.699,"g":"Case"},{"x":0.0015,"y":0.69,"g":"Control"},{"x":0.0019,"y":0.697,"g":"Control"},{"x":0.0023,"y":0.692,"g":"Case"},
{"x":0.0016,"y":0.724,"g":"Control"},{"x":0.0020,"y":0.716,"g":"Case"},{"x":0.0024,"y":0.722,"g":"Control"},{"x":0.0028,"y":0.717,"g":"Control"},
{"x":0.0021,"y":0.749,"g":"Case"},{"x":0.0025,"y":0.741,"g":"Control"},{"x":0.0029,"y":0.747,"g":"Case"},{"x":0.0033,"y":0.742,"g":"Control"},
{"x":0.0027,"y":0.773,"g":"Control"},{"x":0.0031,"y":0.766,"g":"Control"},{"x":0.0035,"y":0.775,"g":"Case"},
{"x":0.0032,"y":0.799,"g":"Case"},{"x":0.0036,"y":0.79,"g":"Control"},{"x":0.0040,"y":0.797,"g":"Control"},
{"x":0.0035,"y":0.824,"g":"Control"},{"x":0.0039,"y":0.816,"g":"Case"},{"x":0.0043,"y":0.822,"g":"Control"},
{"x":0.0038,"y":0.849,"g":"Control"},{"x":0.0042,"y":0.841,"g":"Control"},{"x":0.0046,"y":0.847,"g":"Case"},
{"x":0.0042,"y":0.873,"g":"Case"},{"x":0.0047,"y":0.868,"g":"Control"},
{"x":0.0046,"y":0.899,"g":"Control"},{"x":0.0050,"y":0.892,"g":"Case"},
{"x":-0.0106,"y":0.058,"g":"Control"},{"x":-0.0099,"y":0.055,"g":"Case"},{"x":-0.0092,"y":0.06,"g":"Control"},
{"x":-0.0102,"y":0.083,"g":"Case"},{"x":-0.0095,"y":0.08,"g":"Control"},{"x":-0.0088,"y":0.085,"g":"Control"},
{"x":-0.0097,"y":0.108,"g":"Control"},{"x":-0.0090,"y":0.105,"g":"Control"},{"x":-0.0083,"y":0.11,"g":"Case"},
{"x":-0.0093,"y":0.133,"g":"Case"},{"x":-0.0086,"y":0.13,"g":"Control"},{"x":-0.0079,"y":0.135,"g":"Control"},
{"x":-0.0088,"y":0.158,"g":"Control"},{"x":-0.0081,"y":0.155,"g":"Case"},{"x":-0.0074,"y":0.16,"g":"Control"},
{"x":-0.0083,"y":0.183,"g":"Control"},{"x":-0.0076,"y":0.18,"g":"Control"},{"x":-0.0069,"y":0.185,"g":"Case"},
{"x":-0.0079,"y":0.208,"g":"Case"},{"x":-0.0072,"y":0.205,"g":"Control"},{"x":-0.0065,"y":0.21,"g":"Control"},
{"x":-0.0074,"y":0.233,"g":"Control"},{"x":-0.0067,"y":0.23,"g":"Case"},{"x":-0.0060,"y":0.235,"g":"Control"},
{"x":-0.0069,"y":0.258,"g":"Control"},{"x":-0.0062,"y":0.255,"g":"Control"},{"x":-0.0055,"y":0.26,"g":"Case"},
{"x":-0.0065,"y":0.283,"g":"Case"},{"x":-0.0058,"y":0.28,"g":"Control"},{"x":-0.0051,"y":0.285,"g":"Control"},
{"x":-0.0060,"y":0.308,"g":"Control"},{"x":-0.0053,"y":0.305,"g":"Case"},{"x":-0.0046,"y":0.31,"g":"Control"},
{"x":-0.0055,"y":0.333,"g":"Control"},{"x":-0.0048,"y":0.33,"g":"Control"},{"x":-0.0041,"y":0.335,"g":"Case"},
{"x":-0.0051,"y":0.358,"g":"Case"},{"x":-0.0044,"y":0.355,"g":"Control"},{"x":-0.0037,"y":0.36,"g":"Control"},
{"x":-0.0046,"y":0.383,"g":"Control"},{"x":-0.0039,"y":0.38,"g":"Case"},{"x":-0.0032,"y":0.385,"g":"Control"},
{"x":-0.0041,"y":0.408,"g":"Control"},{"x":-0.0034,"y":0.405,"g":"Control"},{"x":-0.0027,"y":0.41,"g":"Case"},
{"x":-0.0037,"y":0.433,"g":"Case"},{"x":-0.0030,"y":0.43,"g":"Control"},{"x":-0.0023,"y":0.435,"g":"Control"},
{"x":-0.0032,"y":0.458,"g":"Control"},{"x":-0.0025,"y":0.455,"g":"Case"},{"x":-0.0018,"y":0.46,"g":"Control"},
{"x":-0.0027,"y":0.483,"g":"Control"},{"x":-0.0020,"y":0.48,"g":"Control"},{"x":-0.0013,"y":0.485,"g":"Case"},
{"x":-0.0022,"y":0.508,"g":"Case"},{"x":-0.0015,"y":0.505,"g":"Control"},{"x":-0.0008,"y":0.51,"g":"Control"},
{"x":-0.0018,"y":0.533,"g":"Control"},{"x":-0.0011,"y":0.53,"g":"Case"},{"x":-0.0004,"y":0.535,"g":"Control"},
{"x":-0.0107,"y":0.062,"g":"Case"},{"x":-0.0100,"y":0.065,"g":"Control"},{"x":-0.0094,"y":0.061,"g":"Control"},
{"x":-0.0103,"y":0.087,"g":"Control"},{"x":-0.0097,"y":0.084,"g":"Case"},{"x":-0.0090,"y":0.089,"g":"Control"},
{"x":-0.0099,"y":0.112,"g":"Control"},{"x":-0.0093,"y":0.109,"g":"Control"},{"x":-0.0086,"y":0.113,"g":"Case"},
{"x":-0.0095,"y":0.137,"g":"Case"},{"x":-0.0089,"y":0.134,"g":"Control"},{"x":-0.0082,"y":0.138,"g":"Control"},
{"x":-0.0090,"y":0.162,"g":"Control"},{"x":-0.0084,"y":0.159,"g":"Control"},{"x":-0.0077,"y":0.163,"g":"Case"},
{"x":-0.0086,"y":0.187,"g":"Case"},{"x":-0.0080,"y":0.184,"g":"Control"},{"x":-0.0073,"y":0.188,"g":"Control"},
{"x":-0.0081,"y":0.212,"g":"Control"},{"x":-0.0075,"y":0.209,"g":"Case"},{"x":-0.0068,"y":0.213,"g":"Control"},
{"x":-0.0076,"y":0.237,"g":"Control"},{"x":-0.0070,"y":0.234,"g":"Control"},{"x":-0.0063,"y":0.238,"g":"Case"},
{"x":-0.0072,"y":0.262,"g":"Case"},{"x":-0.0066,"y":0.259,"g":"Control"},{"x":-0.0059,"y":0.263,"g":"Control"},
{"x":-0.0067,"y":0.287,"g":"Control"},{"x":-0.0061,"y":0.284,"g":"Case"},{"x":-0.0054,"y":0.288,"g":"Control"},
{"x":-0.0062,"y":0.312,"g":"Control"},{"x":-0.0056,"y":0.309,"g":"Control"},{"x":-0.0049,"y":0.313,"g":"Case"},
{"x":-0.0058,"y":0.337,"g":"Case"},{"x":-0.0052,"y":0.334,"g":"Control"},{"x":-0.0045,"y":0.338,"g":"Control"},
{"x":-0.0053,"y":0.362,"g":"Control"},{"x":-0.0047,"y":0.359,"g":"Case"},{"x":-0.0040,"y":0.363,"g":"Control"},
{"x":-0.0048,"y":0.387,"g":"Control"},{"x":-0.0042,"y":0.384,"g":"Control"},{"x":-0.0035,"y":0.388,"g":"Case"},
{"x":-0.0044,"y":0.412,"g":"Case"},{"x":-0.0038,"y":0.409,"g":"Control"},{"x":-0.0031,"y":0.413,"g":"Control"},
{"x":-0.0039,"y":0.437,"g":"Control"},{"x":-0.0033,"y":0.434,"g":"Case"},{"x":-0.0026,"y":0.438,"g":"Control"},
{"x":-0.0034,"y":0.462,"g":"Control"},{"x":-0.0028,"y":0.459,"g":"Control"},{"x":-0.0021,"y":0.463,"g":"Case"},
{"x":-0.0030,"y":0.487,"g":"Case"},{"x":-0.0024,"y":0.484,"g":"Control"},{"x":-0.0017,"y":0.488,"g":"Control"},
{"x":-0.0025,"y":0.512,"g":"Control"},{"x":-0.0019,"y":0.509,"g":"Case"},{"x":-0.0012,"y":0.513,"g":"Control"},
{"x":-0.0020,"y":0.537,"g":"Control"},{"x":-0.0014,"y":0.534,"g":"Control"},{"x":-0.0007,"y":0.538,"g":"Case"},
{"x":-0.0015,"y":0.562,"g":"Case"},{"x":-0.0009,"y":0.559,"g":"Control"},{"x":-0.0003,"y":0.563,"g":"Control"},
{"x":-0.0011,"y":0.587,"g":"Control"},{"x":-0.0005,"y":0.584,"g":"Case"},{"x":0.0002,"y":0.588,"g":"Control"},
{"x":-0.0006,"y":0.612,"g":"Control"},{"x":0.0000,"y":0.609,"g":"Control"},{"x":0.0006,"y":0.613,"g":"Case"},
{"x":-0.0001,"y":0.637,"g":"Case"},{"x":0.0005,"y":0.634,"g":"Control"},{"x":0.0011,"y":0.638,"g":"Control"},
{"x":0.0004,"y":0.662,"g":"Control"},{"x":0.0010,"y":0.659,"g":"Case"},{"x":0.0016,"y":0.663,"g":"Control"},
{"x":0.0009,"y":0.687,"g":"Control"},{"x":0.0015,"y":0.684,"g":"Control"},{"x":0.0021,"y":0.688,"g":"Case"},
{"x":0.0014,"y":0.712,"g":"Case"},{"x":0.0020,"y":0.709,"g":"Control"},{"x":0.0026,"y":0.713,"g":"Control"},
{"x":-0.0113,"y":0.06,"g":"Control"},{"x":-0.0104,"y":0.07,"g":"Case"},{"x":-0.0096,"y":0.057,"g":"Control"},{"x":-0.0087,"y":0.07,"g":"Control"},
{"x":-0.0104,"y":0.11,"g":"Control"},{"x":-0.0095,"y":0.12,"g":"Case"},{"x":-0.0087,"y":0.107,"g":"Control"},{"x":-0.0078,"y":0.12,"g":"Control"},
{"x":-0.0095,"y":0.16,"g":"Control"},{"x":-0.0086,"y":0.17,"g":"Case"},{"x":-0.0078,"y":0.157,"g":"Control"},{"x":-0.0069,"y":0.17,"g":"Control"},
{"x":-0.0086,"y":0.21,"g":"Control"},{"x":-0.0077,"y":0.22,"g":"Case"},{"x":-0.0069,"y":0.207,"g":"Control"},{"x":-0.0060,"y":0.22,"g":"Control"},
{"x":-0.0076,"y":0.26,"g":"Control"},{"x":-0.0067,"y":0.27,"g":"Case"},{"x":-0.0059,"y":0.257,"g":"Control"},{"x":-0.0050,"y":0.27,"g":"Control"},
{"x":-0.0067,"y":0.31,"g":"Control"},{"x":-0.0058,"y":0.32,"g":"Case"},{"x":-0.0050,"y":0.307,"g":"Control"},{"x":-0.0041,"y":0.32,"g":"Control"},
{"x":-0.0058,"y":0.36,"g":"Control"},{"x":-0.0049,"y":0.37,"g":"Case"},{"x":-0.0041,"y":0.357,"g":"Control"},{"x":-0.0032,"y":0.37,"g":"Control"},
{"x":-0.0048,"y":0.41,"g":"Control"},{"x":-0.0039,"y":0.42,"g":"Case"},{"x":-0.0031,"y":0.407,"g":"Control"},{"x":-0.0022,"y":0.42,"g":"Control"},
{"x":-0.0037,"y":0.46,"g":"Control"},{"x":-0.0030,"y":0.47,"g":"Case"},{"x":-0.0022,"y":0.457,"g":"Control"},{"x":-0.0015,"y":0.47,"g":"Control"},
{"x":-0.0027,"y":0.51,"g":"Control"},{"x":-0.0020,"y":0.52,"g":"Case"},{"x":-0.0013,"y":0.507,"g":"Control"},{"x":-0.0006,"y":0.52,"g":"Control"},
{"x":-0.0018,"y":0.56,"g":"Control"},{"x":-0.0011,"y":0.57,"g":"Case"},{"x":-0.0004,"y":0.557,"g":"Control"},{"x":0.0004,"y":0.57,"g":"Control"},
{"x":-0.0007,"y":0.61,"g":"Control"},{"x":-0.0001,"y":0.62,"g":"Case"},{"x":0.0005,"y":0.607,"g":"Control"},{"x":0.0011,"y":0.62,"g":"Control"},
{"x":0.0003,"y":0.66,"g":"Control"},{"x":0.0009,"y":0.67,"g":"Case"},{"x":0.0014,"y":0.657,"g":"Control"},{"x":0.0020,"y":0.67,"g":"Control"},
{"x":0.0013,"y":0.71,"g":"Control"},{"x":0.0018,"y":0.72,"g":"Case"},{"x":0.0023,"y":0.707,"g":"Control"},{"x":0.0029,"y":0.72,"g":"Control"},
{"x":0.0023,"y":0.76,"g":"Control"},{"x":0.0028,"y":0.77,"g":"Case"},{"x":0.0033,"y":0.757,"g":"Control"},
{"x":0.0033,"y":0.81,"g":"Control"},{"x":0.0038,"y":0.82,"g":"Case"},{"x":0.0043,"y":0.807,"g":"Control"},
{"x":0.0058,"y":1,"g":"Case"},{"x":0.0063,"y":1,"g":"Case"},{"x":0.0066,"y":1,"g":"Case"},{"x":0.0069,"y":1,"g":"Case"},{"x":0.0087,"y":1,"g":"Case"},{"x":0.0094,"y":1,"g":"Case"},{"x":0.0112,"y":1,"g":"Case"},
{"x":0.0067,"y":1,"g":"Control"},{"x":0.0072,"y":1,"g":"Control"},{"x":0.0076,"y":1,"g":"Control"},{"x":0.0079,"y":1,"g":"Control"},{"x":0.0080,"y":1,"g":"Control"},{"x":0.0086,"y":1,"g":"Control"},{"x":0.0099,"y":1,"g":"Control"},{"x":0.0106,"y":1,"g":"Control"},{"x":0.0123,"y":1,"g":"Control"},{"x":0.0068,"y":0.99,"g":"Control"},
{"x":0.0052,"y":0.914,"g":"Control"},{"x":0.0062,"y":0.919,"g":"Control"},{"x":0.0067,"y":0.879,"g":"Control"},{"x":0.0074,"y":0.867,"g":"Control"},{"x":0.0095,"y":0.880,"g":"Control"},{"x":0.0104,"y":0.902,"g":"Control"},{"x":0.0083,"y":0.761,"g":"Control"},{"x":0.0052,"y":0.715,"g":"Control"},{"x":0.0042,"y":0.717,"g":"Control"},{"x":0.0035,"y":0.657,"g":"Control"},{"x":0.0026,"y":0.525,"g":"Control"},{"x":-0.0004,"y":0.463,"g":"Control"},{"x":-0.0042,"y":0.277,"g":"Control"},{"x":0.0044,"y":0.827,"g":"Control"},{"x":0.0048,"y":0.89,"g":"Control"},{"x":0.0043,"y":0.86,"g":"Control"},{"x":0.0040,"y":0.852,"g":"Control"},{"x":0.0031,"y":0.807,"g":"Control"},{"x":0.0022,"y":0.678,"g":"Control"},
{"x":0.0045,"y":0.935,"g":"Case"},{"x":0.0051,"y":0.932,"g":"Case"},{"x":0.0046,"y":0.909,"g":"Case"},{"x":0.0057,"y":0.912,"g":"Case"},{"x":0.0064,"y":0.915,"g":"Case"},{"x":0.0057,"y":0.852,"g":"Case"},{"x":0.0050,"y":0.800,"g":"Case"},{"x":0.0051,"y":0.877,"g":"Case"},{"x":0.0039,"y":0.884,"g":"Case"},{"x":-0.0043,"y":0.262,"g":"Case"},{"x":0.0011,"y":0.723,"g":"Case"},{"x":0.0028,"y":0.693,"g":"Case"},{"x":0.0039,"y":0.822,"g":"Case"}
]
},
"hconcat": [
{
 "width": 381, "height": 366,
 "title": {"text": "A", "anchor": "start", "frame": "bounds", "fontSize": 18, "fontWeight": "bold", "color": "#000", "offset": 0, "dx": -2, "dy": 17},
 "data": {"name": "pop"},
 "mark": {"type": "circle", "size": 55, "opacity": 1},
 "encoding": {
  "x": {"field": "x", "type": "quantitative", "scale": {"domain": [-0.01434, 0.02531], "nice": false, "zero": false}, "axis": {"values": [-0.01, 0, 0.01, 0.02], "format": ".2f", "title": "PC1", "titlePadding": 2}},
  "y": {"field": "y", "type": "quantitative", "scale": {"domain": [-0.03064, 0.03829], "nice": false, "zero": false}, "axis": {"values": [-0.02, 0, 0.02], "format": ".2f", "title": "PC2", "titlePadding": 12}},
  "color": {"field": "g", "type": "nominal", "scale": {"domain": ["AFR", "AMR", "EAS", "EUR", "POAAGG", "SAS"], "range": ["#F8766D", "#B79F00", "#00BA38", "#00BFC4", "#619CFF", "#F564E3"]},
   "legend": {"title": "Population", "orient": "none", "legendX": 24, "legendY": -6, "titleFontSize": 21, "titleFontWeight": "normal", "titleColor": "#000", "titlePadding": 4, "labelFontSize": 18, "labelColor": "#000", "symbolType": "circle", "symbolSize": 40, "symbolStrokeWidth": 0, "rowPadding": 4, "labelOffset": 7, "symbolOffset": 3}}
 }
},
{
 "width": 379, "height": 366,
 "title": {"text": "B", "anchor": "start", "frame": "bounds", "fontSize": 18, "fontWeight": "bold", "color": "#000", "offset": 0, "dx": -4, "dy": 11},
 "data": {"name": "qz"},
 "mark": {"type": "circle", "size": 52, "opacity": 0.4},
 "encoding": {
  "x": {"field": "x", "type": "quantitative", "scale": {"domain": [-0.01375, 0.01293], "nice": false, "zero": false}, "axis": {"values": [-0.01, -0.005, 0, 0.005, 0.01], "format": ".3f", "title": "PC1", "titlePadding": 2}},
  "y": {"field": "y", "type": "quantitative", "scale": {"domain": [-0.048, 1.047], "nice": false, "zero": false}, "axis": {"values": [0, 0.25, 0.5, 0.75, 1], "format": ".2f", "title": "q0", "titlePadding": 14}},
  "color": {"field": "g", "type": "nominal", "scale": {"domain": ["Case", "Control"], "range": ["#F8766D", "#00BFC4"]},
   "legend": {"title": null, "orient": "none", "legendX": 26, "legendY": 28, "labelFontSize": 18, "labelColor": "#000", "symbolType": "circle", "symbolSize": 36, "symbolStrokeWidth": 0, "symbolOpacity": 0.35, "rowPadding": 4, "labelOffset": 8, "symbolOffset": 3}}
 }
}
]
}
